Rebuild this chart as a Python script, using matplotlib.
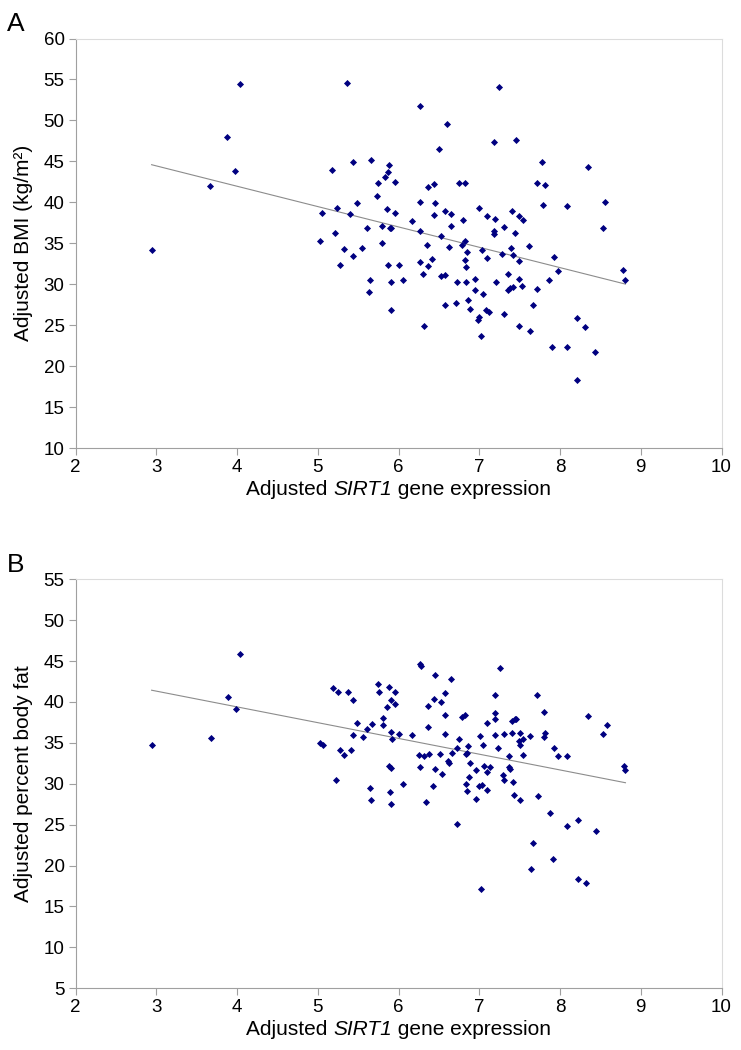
import numpy as np
import matplotlib
matplotlib.use('Agg')
import matplotlib.pyplot as plt
from matplotlib.offsetbox import TextArea, HPacker, AnchoredOffsetbox

plt.rcParams['font.family'] = ['Liberation Sans', 'DejaVu Sans']

# panel A: adjusted SIRT1 expression vs adjusted BMI
bmi_x = [4.03, 5.36, 3.88, 3.97, 3.66, 5.18, 5.43, 5.66, 5.88, 5.87, 5.83, 5.75, 5.95, 5.73,
         5.48, 5.24, 5.05, 5.40, 5.86, 5.95, 5.61, 5.80, 5.89, 5.91, 5.21, 5.02, 5.80, 2.94,
         5.32, 5.55, 5.27, 5.43, 5.87, 6.01, 5.65, 5.63, 5.90, 5.90, 7.24, 6.26, 6.60, 6.50,
         7.18, 7.46, 7.78, 8.34, 6.36, 6.44, 6.75, 6.82, 7.71, 7.81, 7.79, 8.08, 8.56, 8.53,
         6.26, 6.45, 6.44, 6.57, 6.65, 6.99, 6.80, 7.09, 7.19, 7.40, 7.49, 7.54, 6.17, 6.26,
         6.53, 6.65, 7.18, 7.18, 7.30, 7.44, 6.35, 6.62, 6.79, 6.82, 7.39, 7.62, 6.85, 7.03,
         7.09, 7.28, 7.42, 7.49, 7.93, 7.97, 7.86, 8.78, 8.81, 6.05, 6.26, 6.37, 6.41, 6.30,
         6.52, 6.58, 6.82, 6.84, 6.72, 6.83, 6.95, 6.95, 7.05, 7.21, 7.36, 7.36, 7.38, 7.42,
         7.49, 7.53, 7.72, 7.66, 6.58, 6.71, 6.86, 6.88, 7.08, 7.12, 7.30, 7.00, 6.98, 7.02,
         6.32, 7.49, 7.63, 8.21, 8.31, 7.90, 8.08, 8.43, 8.21]
bmi_y = [54.49, 54.57, 47.99, 43.80, 42.00, 43.90, 44.90, 45.20, 44.60, 43.70, 43.15, 42.40,
         42.50, 40.76, 39.90, 39.30, 38.70, 38.56, 39.20, 38.70, 36.90, 37.05, 36.90, 36.90,
         36.30, 35.27, 35.06, 34.20, 34.30, 34.40, 32.34, 33.50, 32.34, 32.38, 30.46, 29.00,
         30.30, 26.80, 54.05, 51.77, 49.57, 46.50, 47.40, 47.66, 44.90, 44.37, 41.90, 42.26,
         42.34, 42.34, 42.42, 42.13, 39.65, 39.57, 40.00, 36.90, 40.00, 39.90, 38.50, 38.96,
         38.63, 39.33, 37.86, 38.30, 37.99, 38.96, 38.30, 37.83, 37.66, 36.52, 35.95, 37.10,
         36.50, 36.16, 36.93, 36.20, 34.85, 34.57, 34.73, 35.30, 34.37, 34.66, 33.96, 34.20,
         33.15, 33.70, 33.60, 32.78, 33.35, 31.56, 30.47, 31.68, 30.55, 30.50, 32.66, 32.26,
         33.03, 31.20, 31.04, 31.12, 32.95, 32.05, 30.27, 30.27, 30.60, 29.25, 28.76, 30.22,
         31.30, 29.29, 29.50, 29.66, 30.63, 29.73, 29.41, 27.50, 27.50, 27.74, 28.10, 26.98,
         26.90, 26.56, 26.32, 25.95, 25.67, 23.64, 24.85, 24.90, 24.33, 25.90, 24.80, 22.34,
         22.37, 21.70, 18.35]

# panel B: adjusted SIRT1 expression vs adjusted percent body fat
fat_x = [4.03, 3.89, 3.98, 5.19, 5.25, 5.37, 5.43, 5.74, 5.76, 5.88, 5.96, 5.90, 5.96, 5.85,
         5.81, 5.81, 5.49, 5.67, 5.61, 2.94, 3.67, 5.03, 5.06, 5.27, 5.32, 5.41, 5.22, 5.44,
         5.56, 5.90, 5.92, 6.01, 5.88, 5.91, 5.64, 5.66, 5.89, 5.91, 6.27, 6.28, 7.25, 6.45,
         6.65, 6.58, 7.19, 7.72, 6.44, 6.53, 6.37, 6.58, 6.79, 6.82, 7.19, 7.19, 7.10, 7.40,
         7.44, 7.46, 7.80, 8.34, 8.58, 6.36, 8.53, 6.17, 6.58, 6.75, 7.01, 7.04, 7.20, 7.30,
         7.40, 7.50, 7.49, 7.50, 7.54, 7.63, 7.81, 7.80, 6.86, 6.72, 6.66, 6.83, 6.85, 7.23,
         7.37, 7.54, 7.93, 7.98, 8.09, 6.25, 6.31, 6.38, 6.51, 6.61, 6.62, 6.89, 6.26, 6.45,
         6.54, 6.96, 7.06, 7.13, 7.10, 7.37, 7.38, 7.29, 7.31, 7.42, 6.87, 6.83, 6.85, 7.00,
         7.03, 7.09, 6.96, 7.43, 7.50, 7.73, 6.06, 6.42, 6.34, 6.72, 7.87, 8.09, 8.22, 8.44,
         7.67, 7.91, 7.64, 8.22, 8.32, 7.02, 8.79, 8.81]
fat_y = [45.87, 40.65, 39.18, 41.75, 41.22, 41.19, 40.24, 42.16, 41.26, 41.83, 41.22, 40.28,
         39.72, 39.39, 38.00, 37.19, 37.43, 37.27, 36.74, 34.74, 35.56, 34.95, 34.78, 34.10,
         33.52, 34.13, 30.50, 35.97, 35.72, 36.37, 35.47, 36.05, 32.22, 31.90, 29.49, 28.06,
         29.00, 27.50, 44.68, 44.36, 44.16, 43.26, 42.85, 41.14, 40.89, 40.86, 40.33, 40.00,
         39.55, 38.41, 38.20, 38.45, 38.70, 37.92, 37.40, 37.68, 37.89, 37.96, 38.74, 38.25,
         37.23, 36.98, 36.09, 35.93, 36.09, 35.52, 35.81, 34.78, 35.93, 36.05, 36.25, 36.25,
         35.20, 34.70, 35.50, 35.88, 36.17, 35.76, 34.58, 34.41, 33.76, 33.60, 33.80, 34.41,
         33.40, 33.52, 34.41, 33.44, 33.44, 33.52, 33.36, 33.68, 33.68, 32.75, 32.54, 32.58,
         32.02, 31.77, 31.20, 31.69, 32.14, 32.09, 31.44, 32.02, 31.77, 31.11, 30.46, 30.18,
         30.87, 29.94, 29.12, 29.70, 29.89, 29.28, 28.10, 28.63, 27.98, 28.55, 29.94, 29.73,
         27.81, 25.12, 26.43, 24.80, 25.58, 24.19, 22.76, 20.81, 19.62, 18.40, 17.91, 17.10,
         32.17, 31.69]

x_ticks = [2, 3, 4, 5, 6, 7, 8, 9, 10]
panels = [
    ('A', bmi_x, bmi_y, (10, 60), 'Adjusted BMI (kg/m²)'),
    ('B', fat_x, fat_y, (5, 55), 'Adjusted percent body fat'),
]
boxes = [[0.1022, 0.5733, 0.8715, 0.3900], [0.1022, 0.0588, 0.8715, 0.3895]]

fig = plt.figure(figsize=(7.41, 10.5), dpi=100)

for (tag, xs, ys, ylim, ylab), box in zip(panels, boxes):
    ax = fig.add_axes(box)
    xs = np.array(xs)
    ys = np.array(ys)
    ax.scatter(xs, ys, marker='D', s=13, color='#000080', linewidths=0, zorder=3)

    # least squares trend line over the range of the data
    k, b = np.polyfit(xs, ys, 1)
    lx = np.array([xs.min(), xs.max()])
    ax.plot(lx, k * lx + b, color='#8c8c8c', lw=0.8, zorder=2)

    ax.set_xlim(2, 10)
    ax.set_ylim(*ylim)
    ax.set_xticks(x_ticks)
    ax.set_yticks(np.arange(ylim[0], ylim[1] + 1, 5))
    ax.tick_params(labelsize=13.5, length=5, width=0.8, color='#a0a0a0', pad=3)
    for side in ['left', 'bottom']:
        ax.spines[side].set_color('#a0a0a0')
    for side in ['top', 'right']:
        ax.spines[side].set_color('#dcdcdc')
    ax.set_ylabel(ylab, fontsize=15, labelpad=8)

    # x label with the gene name in italics (digit included)
    fp = dict(fontsize=15)
    parts = [TextArea('Adjusted ', textprops=fp),
             TextArea('SIRT1', textprops=dict(fontsize=15, style='italic')),
             TextArea(' gene expression', textprops=fp)]
    pack = HPacker(children=parts, align='baseline', pad=0, sep=0)
    xl = AnchoredOffsetbox(loc='upper center', child=pack, pad=0, borderpad=0, frameon=False,
                           bbox_to_anchor=(0.5, -0.078), bbox_transform=ax.transAxes)
    ax.add_artist(xl)
    xl.set_clip_on(False)

    ax.text(-0.106, 1.005, tag, transform=ax.transAxes, fontsize=19, va='bottom', ha='left')

fig.savefig('out.png', dpi=100)
